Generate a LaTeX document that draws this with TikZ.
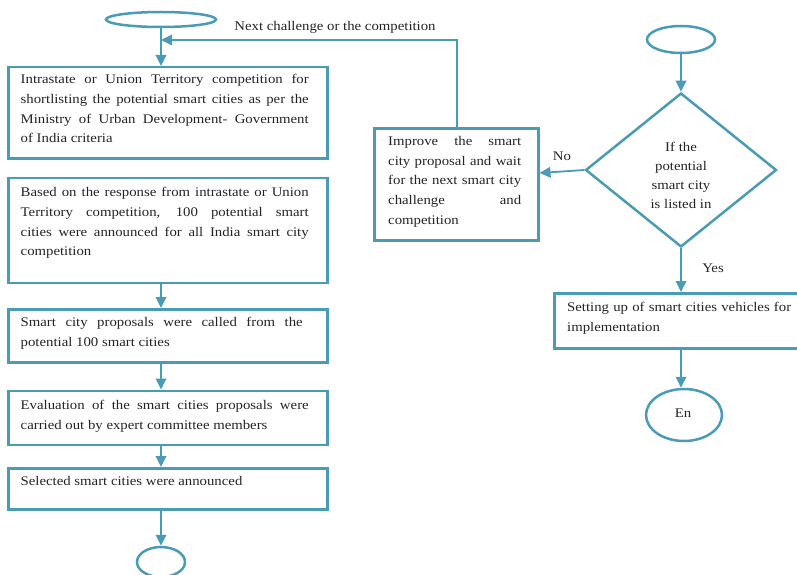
\documentclass[tikz,border=0pt]{standalone}
\usepackage{fontspec}
\setmainfont{Liberation Serif}[FakeStretch=1.12]
\usetikzlibrary{shapes.geometric,arrows.meta,calc}
\definecolor{tealc}{RGB}{74,155,181}
\definecolor{inkc}{RGB}{35,35,35}
\begin{document}
\begin{tikzpicture}[x=1pt,y=-1pt,
  box/.style={draw=tealc,line width=2.5pt,inner sep=0pt,anchor=north west},
  ell/.style={ellipse,draw=tealc,line width=2.5pt,inner sep=0pt},
  dia/.style={diamond,draw=tealc,line width=2.5pt,inner sep=0pt},
  arr/.style={draw=tealc,line width=1.8pt,-{Triangle[length=11pt,width=10.5pt]}},
  txt/.style={font=\fontsize{13.2}{19.8}\selectfont,text=inkc,inner sep=0pt,anchor=north west,align=justify},
  lbl/.style={font=\fontsize{13.2}{19.8}\selectfont,text=inkc,inner sep=0pt}]
\useasboundingbox (0,0) rectangle (797,575);
% left column
\node[ell,minimum width=110,minimum height=15] (s1) at (161,19.5) {};
\node[box,minimum width=319,minimum height=91] (b1) at (7,66) {};
\node[box,minimum width=319,minimum height=105] (b2) at (7,176.5) {};
\node[box,minimum width=319,minimum height=53] (b3) at (7,308) {};
\node[box,minimum width=319,minimum height=54] (b4) at (7,389.5) {};
\node[box,minimum width=319,minimum height=41] (b5) at (7,467) {};
\node[ell,minimum width=48,minimum height=30] (e1) at (161,562) {};
\node[txt,text width=288] (t1) at (20.5,74) {Intrastate or Union Territory competition for\linebreak shortlisting the potential smart cities as per the\linebreak Ministry of Urban Development- Government\linebreak of India criteria};
\node[txt,text width=288] (t2) at (20.5,187) {Based on the response from intrastate or Union\linebreak Territory competition, 100 potential smart\linebreak cities were announced for all India smart city\linebreak competition};
\node[txt,text width=282] (t3) at (20.5,317) {Smart city proposals were called from the\linebreak potential 100 smart cities};
\node[txt,text width=288] (t4) at (20.5,400) {Evaluation of the smart cities proposals were\linebreak carried out by expert committee members};
\node[txt,text width=288] (t5) at (20.5,476) {Selected smart cities were announced};
% right part
\node[box,minimum width=164,minimum height=112] (imp) at (373,127) {};
\node[txt,text width=133] (timp) at (388,136) {Improve the smart\linebreak city proposal and wait\linebreak for the next smart city\linebreak challenge and\linebreak competition};
\node[ell,minimum width=68,minimum height=27] (s2) at (681,39.5) {};
\node[dia,minimum width=191,minimum height=154] (d) at (681,170) {};
\node[lbl,align=center,font=\fontsize{13.2}{19}\selectfont] (td) at (681,175.5) {If the\\potential\\smart city\\is listed in};
\node[box,minimum width=252,minimum height=55] (set) at (553,292) {};
\node[txt,text width=224] (tset) at (567,302) {Setting up of smart cities vehicles for\linebreak implementation};
\node[ell,minimum width=76,minimum height=52] (en) at (684,415) {};
\node[lbl] (ten) at (683,413) {En};
% labels
\node[lbl] (lnext) at (335,27) {Next challenge or the competition};
\node[lbl] (lno) at (562,156) {No};
\node[lbl] (lyes) at (713,268) {Yes};
% connectors
\coordinate (fb) at (457,40);
\coordinate (ny) at (0,173);
\draw[arr] (s1.south) -- (s1.south |- b1.north);
\draw[arr] (imp.north -| fb) |- (s1.south |- fb);
\draw[arr] (b2.south -| s1) -- (b3.north -| s1);
\draw[arr] (b3.south -| s1) -- (b4.north -| s1);
\draw[arr] (b4.south -| s1) -- (b5.north -| s1);
\draw[arr] (b5.south -| s1) -- (e1.north);
\draw[arr] (s2.south) -- (d.north);
\draw[arr] (d.west) -- (imp.east |- ny);
\draw[arr] (d.south) -- (d.south |- set.north);
\draw[arr] (set.south -| d) -- (en.north -| d);
\end{tikzpicture}
\end{document}
